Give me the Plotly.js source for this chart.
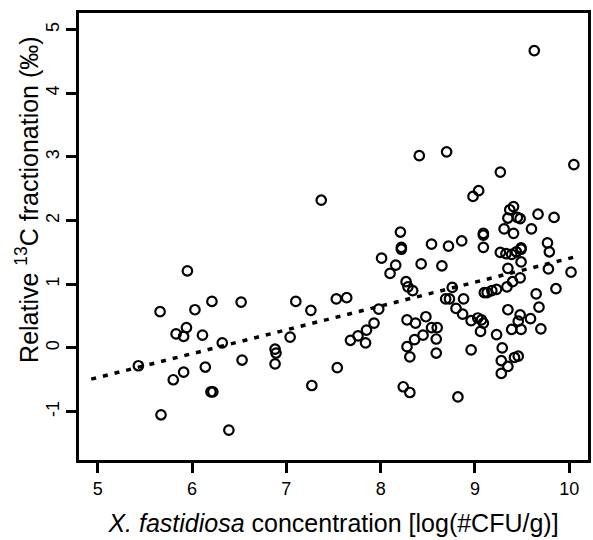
<!DOCTYPE html>
<html>
<head>
<meta charset="utf-8">
<script src="https://cdn.plot.ly/plotly-3.0.1.min.js"></script>
<style>html,body{margin:0;padding:0;background:#fff;}#chart{width:593px;height:540px;}</style>
</head>
<body>
<div id="chart"></div>
<script>
// X. fastidiosa concentration [log(#CFU/g)]
const concentration = [
  5.43, 5.66, 5.67, 5.80, 5.83, 5.91, 5.91, 5.94, 5.95, 6.03,
  6.11, 6.14, 6.20, 6.22, 6.21, 6.32, 6.39, 6.52, 6.53, 6.88,
  6.89, 6.88, 7.04, 7.10, 7.26, 7.27, 7.37, 7.53, 7.54, 7.64,
  7.68, 7.76, 7.84, 7.85, 7.93, 7.98, 8.01, 8.10, 8.16, 8.21,
  8.22, 8.22, 8.24, 8.27, 8.29, 8.34, 8.28, 8.28, 8.31, 8.31,
  8.36, 8.37, 8.41, 8.43, 8.45, 8.48, 8.54, 8.54, 8.59, 8.59,
  8.60, 8.65, 8.69, 8.70, 8.72, 8.73, 8.76, 8.80, 8.82, 8.86,
  8.87, 8.88, 8.96, 8.96, 8.98, 9.03, 9.04, 9.06, 9.07, 9.09,
  9.09, 9.09, 9.09, 9.10, 9.13, 9.18, 9.23, 9.23, 9.27, 9.27,
  9.28, 9.28, 9.29, 9.31, 9.33, 9.34, 9.35, 9.35, 9.35, 9.35,
  9.37, 9.39, 9.39, 9.40, 9.41, 9.41, 9.42, 9.44, 9.45, 9.46,
  9.46, 9.48, 9.48, 9.48, 9.49, 9.49, 9.49, 9.59, 9.60, 9.63,
  9.65, 9.67, 9.68, 9.70, 9.77, 9.79, 9.78, 9.84, 9.86, 10.02,
  10.05, 9.49
];
// Relative 13C fractionation (permil)
const fractionation = [
  -0.28, 0.57, -1.05, -0.50, 0.22, 0.18, -0.38, 0.32, 1.21, 0.60,
  0.20, -0.30, -0.69, -0.69, 0.73, 0.08, -1.29, 0.72, -0.19, -0.02,
  -0.08, -0.25, 0.17, 0.73, 0.59, -0.59, 2.32, 0.77, -0.31, 0.79,
  0.12, 0.19, 0.08, 0.28, 0.39, 0.61, 1.41, 1.17, 1.30, 1.82,
  1.58, 1.55, -0.61, 1.04, 0.96, 0.90, 0.44, 0.02, -0.14, -0.70,
  0.13, 0.39, 3.02, 1.32, 0.20, 0.49, 0.32, 1.63, 0.14, -0.08,
  0.32, 1.29, 0.77, 3.08, 1.60, 0.77, 0.95, 0.62, -0.77, 1.68,
  0.53, 0.77, 0.43, -0.03, 2.38, 0.47, 2.47, 0.26, 0.44, 0.39,
  1.80, 1.77, 1.58, 0.87, 0.87, 0.90, 0.92, 0.21, 2.76, 1.50,
  -0.20, -0.40, 0.00, 1.87, 1.48, 0.96, 2.04, 1.25, 0.60, -0.29,
  2.17, 1.47, 0.29, 1.04, 2.22, 1.80, -0.15, 1.51, 2.05, 0.42,
  -0.13, 2.03, 1.10, 0.52, 1.55, 1.35, 0.29, 0.46, 1.87, 4.67,
  0.85, 2.10, 0.64, 0.30, 1.65, 1.51, 1.24, 2.05, 0.93, 1.19,
  2.88, 1.57
];
// fitted regression line
const fitIntercept = -2.334;
const fitSlope = 0.374;
const fitRange = [4.93, 10.09];

const xTicks = [5, 6, 7, 8, 9, 10];
const yTicks = [-1, 0, 1, 2, 3, 4, 5];

const fitX = fitRange;
const fitY = fitRange.map(x => fitIntercept + fitSlope * x);

const font = "Liberation Sans, Arial, sans-serif";

const traces = [
  {
    x: concentration, y: fractionation, type: 'scatter', mode: 'markers',
    marker: {symbol: 'circle-open', size: 9.5, color: '#000', line: {width: 2.2, color: '#000'}},
    hoverinfo: 'x+y', showlegend: false
  },
  {
    x: fitX, y: fitY, type: 'scatter', mode: 'lines',
    line: {color: '#000', width: 3.5, dash: '5px,7px'},
    showlegend: false
  }
];

const layout = {
  width: 593, height: 540,
  margin: {l: 79, r: 5, t: 13, b: 80},
  paper_bgcolor: '#fff', plot_bgcolor: '#fff',
  font: {family: font, color: '#000', size: 18},
  xaxis: {
    range: [4.8, 10.2], tickvals: xTicks, ticktext: xTicks.map(String),
    ticks: 'outside', ticklen: 10, tickwidth: 3, tickcolor: '#000',
    showline: true, linecolor: '#000', linewidth: 3, mirror: true,
    showgrid: false, zeroline: false, automargin: false,
    tickfont: {size: 18, family: font},
    title: {text: '<i>X. fastidiosa</i> concentration [log(#CFU/g)]', font: {size: 25, family: font}, standoff: 17}
  },
  yaxis: {
    range: [-1.76, 5.26], tickvals: yTicks, ticktext: yTicks.map(String),
    ticks: 'outside', ticklen: 10, tickwidth: 3, tickcolor: '#000', tickangle: -90,
    showline: true, linecolor: '#000', linewidth: 3, mirror: true,
    showgrid: false, zeroline: false, automargin: false,
    tickfont: {size: 18, family: font}
  },
  annotations: [{
    text: 'Relative <sup>13</sup>C fractionation (‰)',
    xref: 'paper', yref: 'paper', x: -0.102, y: 0.582,
    xanchor: 'center', yanchor: 'middle', textangle: -90, showarrow: false,
    font: {size: 25, family: font, color: '#000'}
  }]
};

Plotly.newPlot('chart', traces, layout, {displayModeBar: false, staticPlot: true});
</script>
</body>
</html>
